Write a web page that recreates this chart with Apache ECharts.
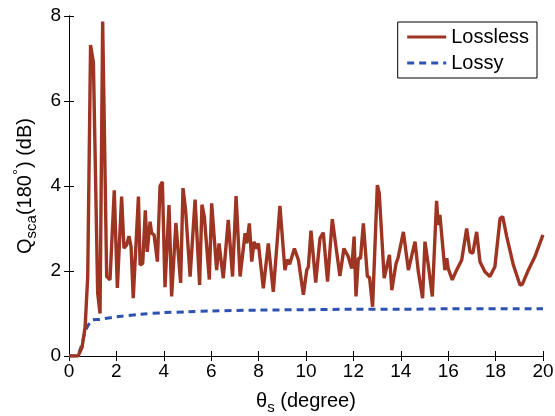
<!DOCTYPE html>
<html>
<head>
<meta charset="utf-8">
<script src="https://cdn.jsdelivr.net/npm/echarts@6/dist/echarts.min.js"></script>
<style>html,body{margin:0;padding:0;background:#fff}#c{width:555px;height:416px}</style>
</head>
<body>
<div id="c"></div>
<script>
const xTicks = [0,2,4,6,8,10,12,14,16,18,20];
const yTicks = [0,2,4,6,8];
const losslessX = [0,0.38,0.55,0.68,0.79,0.91,1.03,1.21,1.31,1.42,1.59,1.73,1.91,2.04,2.22,2.32,2.43,2.53,2.62,2.71,2.93,3.0,3.11,3.22,3.30,3.42,3.49,3.59,3.66,3.73,3.84,3.94,4.05,4.22,4.33,4.51,4.71,4.81,4.92,4.99,5.11,5.32,5.51,5.61,5.71,5.92,6.02,6.23,6.33,6.51,6.72,6.9,7.05,7.22,7.43,7.50,7.61,7.71,7.81,7.90,7.99,8.2,8.41,8.48,8.62,8.9,9.11,9.21,9.31,9.38,9.51,9.68,9.89,10.03,10.1,10.21,10.41,10.59,10.73,10.91,11.11,11.43,11.6,11.78,11.93,12.03,12.11,12.21,12.3,12.42,12.59,12.68,12.81,13.01,13.09,13.3,13.52,13.62,13.8,13.88,14.11,14.32,14.6,14.74,14.92,15.02,15.16,15.33,15.51,15.58,15.65,15.86,15.94,16.0,16.17,16.32,16.57,16.78,16.92,17.04,17.2,17.34,17.55,17.76,17.97,18.19,18.3,18.47,18.75,19.03,19.13,19.38,19.66,19.97,20];
const losslessY = [0,0,0.2,0.68,1.87,7.32,6.9,1.48,1.0,7.87,1.87,1.79,3.9,1.6,3.75,2.54,2.61,2.82,2.57,1.36,3.75,2.14,2.18,3.43,2.45,3.16,2.89,2.85,2.87,2.22,4.0,4.1,1.62,3.55,1.4,3.13,1.72,3.95,3.43,3.43,1.87,3.68,1.67,3.56,3.28,1.8,3.59,2.02,2.65,1.83,3.2,1.87,3.76,1.87,2.89,2.65,3.12,2.22,2.69,2.53,2.65,1.59,2.65,2.67,1.51,3.53,2.02,2.27,2.16,2.2,2.53,2.26,1.44,2.02,2.1,2.95,1.73,2.77,2.9,1.75,3.22,1.88,2.53,2.34,2.06,2.81,1.40,2.3,2.3,3.12,1.87,1.85,1.16,4.02,3.83,1.83,2.38,1.55,2.18,2.3,2.92,2.02,2.69,1.98,1.36,2.69,2.14,1.40,3.65,3.08,3.32,2.02,2.3,2.06,1.79,1.98,2.26,3.0,2.45,2.42,2.92,2.22,1.98,1.87,2.1,3.24,3.28,2.81,2.14,1.67,1.69,2.02,2.34,2.81,2.85];
const lossyX = [0,0.3,0.5,0.7,0.9,1.0,1.3,1.5,2,3,4,5,6,8,10,12,14,16,20];
const lossyY = [0,0,0.2,0.6,0.8,0.85,0.86,0.88,0.92,0.98,1.02,1.04,1.06,1.08,1.09,1.1,1.1,1.11,1.11];

const pair = (xs, ys) => xs.map((x, i) => [x, ys[i]]);
const FONT = 'Liberation Sans';
const chart = echarts.init(document.getElementById('c'), null, {renderer: 'canvas'});
const axisCommon = {
  type: 'value',
  axisLine: {show: true, lineStyle: {color: '#000', width: 1}},
  axisTick: {show: true, inside: true, length: 5, lineStyle: {color: '#000'}},
  splitLine: {show: false}
};
const richName = {
  n: {fontFamily: FONT, fontSize: 20, color: '#000', lineHeight: 22, verticalAlign: 'middle'},
  sub: {fontFamily: FONT, fontSize: 15, color: '#000', lineHeight: 16, padding: [14, 0, 0, 0], verticalAlign: 'middle'},
  sup: {fontFamily: FONT, fontSize: 15, color: '#000', lineHeight: 16, padding: [0, 1, 12, 0], verticalAlign: 'middle'}
};
chart.setOption({
  backgroundColor: '#fff',
  animation: false,
  grid: {left: 69, right: 12, top: 16, bottom: 60, outerBoundsMode: 'none', containLabel: false},
  legend: {
    orient: 'vertical', right: 18, top: 22,
    data: ['Lossless', 'Lossy'],
    backgroundColor: '#fff', borderColor: '#000', borderWidth: 1, borderRadius: 0,
    padding: [5, 8, 5, 8], itemGap: 6, itemWidth: 39, itemHeight: 20,
    itemStyle: {opacity: 0},
    lineStyle: {width: 3},
    textStyle: {fontFamily: FONT, fontSize: 20, color: '#000'}
  },
  xAxis: [
    Object.assign({}, axisCommon, {
      min: 0, max: 20, interval: 2, position: 'bottom',
      axisLabel: {fontFamily: FONT, fontSize: 19, color: '#000', margin: 6},
      name: '{n|θ}{sub|s}{n| (degree)}', nameLocation: 'middle', nameGap: 34,
      nameTextStyle: {fontFamily: FONT, color: '#000', rich: richName}
    }),
    Object.assign({}, axisCommon, {
      min: 0, max: 20, interval: 2, position: 'top', axisLabel: {show: false}
    })
  ],
  yAxis: [
    Object.assign({}, axisCommon, {
      min: 0, max: 8, interval: 2, position: 'left',
      axisLabel: {fontFamily: FONT, fontSize: 19, color: '#000', margin: 8},
      name: '{n|Q}{sub|sca}{n|(180}{sup|°}{n|) (dB)}', nameLocation: 'middle', nameGap: 27,
      nameTextStyle: {fontFamily: FONT, color: '#000', rich: richName}
    }),
    Object.assign({}, axisCommon, {
      min: 0, max: 8, interval: 2, position: 'right', axisLabel: {show: false}
    })
  ],
  series: [
    {
      name: 'Lossless', type: 'line', data: pair(losslessX, losslessY),
      showSymbol: false, symbol: 'none', color: '#9e3522',
      lineStyle: {color: '#9e3522', width: 3.4}, z: 3
    },
    {
      name: 'Lossy', type: 'line', data: pair(lossyX, lossyY), smooth: 0.3,
      showSymbol: false, symbol: 'none', color: '#2d52b0',
      lineStyle: {color: '#2d52b0', width: 3, type: [7, 5]}, z: 2
    }
  ]
});
</script>
</body>
</html>
